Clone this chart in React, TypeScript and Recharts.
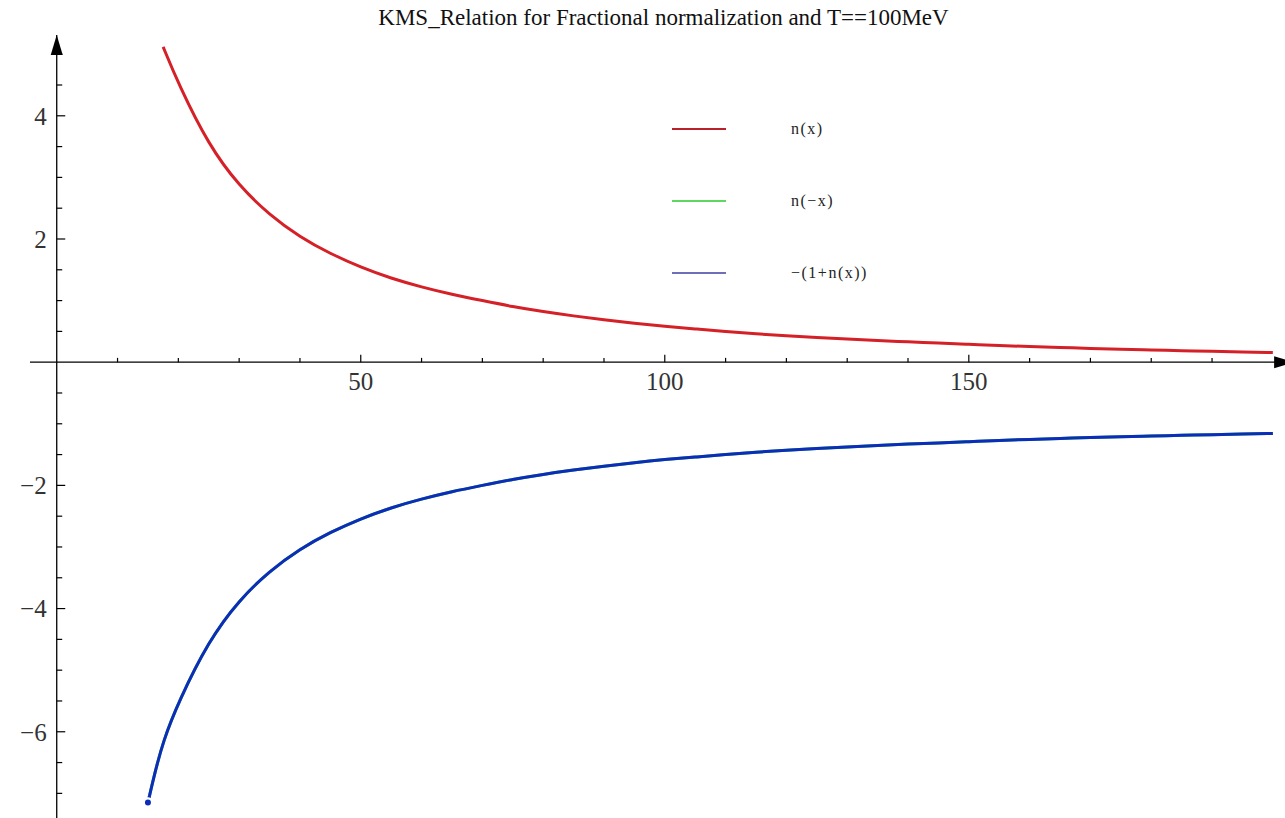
import React from 'react';
import { LineChart, Line, XAxis, YAxis, ReferenceLine, ReferenceDot } from 'recharts';

// energies (MeV) sampled along the curves
const xValues = [15, 16, 17.5, 20, 25, 30, 35, 40, 45, 50, 55, 60, 65, 70, 75, 80, 85, 90, 95, 100, 105, 110, 115, 120, 125, 130, 135, 140, 145, 150, 155, 160, 165, 170, 175, 180, 185, 190, 195, 200];
// n(x), clipped at the top of the plot before x ≈ 17.5
const nValues = [null, null, 5.12, 4.52, 3.52, 2.86, 2.39, 2.03, 1.76, 1.54, 1.36, 1.22, 1.1, 1.0, 0.9, 0.82, 0.75, 0.69, 0.63, 0.58, 0.54, 0.5, 0.46, 0.43, 0.4, 0.375, 0.35, 0.33, 0.31, 0.29, 0.27, 0.253, 0.238, 0.224, 0.21, 0.2, 0.187, 0.177, 0.167, 0.157];
// n(-x), lies under the blue curve
const nNegValues = [-7.15, -6.72, -6.15, -5.52, -4.52, -3.86, -3.39, -3.03, -2.76, -2.54, -2.36, -2.22, -2.1, -2.0, -1.9, -1.82, -1.75, -1.69, -1.63, -1.58, -1.54, -1.5, -1.46, -1.43, -1.4, -1.375, -1.35, -1.33, -1.31, -1.29, -1.27, -1.253, -1.238, -1.224, -1.21, -1.2, -1.187, -1.177, -1.167, -1.157];
// -(1+n(x))
const kmsValues = [-7.15, -6.72, -6.15, -5.52, -4.52, -3.86, -3.39, -3.03, -2.76, -2.54, -2.36, -2.22, -2.1, -2.0, -1.9, -1.82, -1.75, -1.69, -1.63, -1.58, -1.54, -1.5, -1.46, -1.43, -1.4, -1.375, -1.35, -1.33, -1.31, -1.29, -1.27, -1.253, -1.238, -1.224, -1.21, -1.2, -1.187, -1.177, -1.167, -1.157];

const xMajor = [50, 100, 150];
const xMinor = [10, 20, 30, 40, 60, 70, 80, 90, 110, 120, 130, 140, 160, 170, 180, 190];
const yMajor = [-6, -4, -2, 2, 4];
const yMinor = [-7, -6.5, -5.5, -5, -4.5, -3.5, -3, -2.5, -1.5, -1, -0.5, 0.5, 1, 1.5, 2.5, 3, 3.5, 4.5, 5];

const legendItems = [
  { label: 'n(x)', color: '#b8202a' },
  { label: 'n(\u2212x)', color: '#5fd85f' },
  { label: '\u2212(1+n(x))', color: '#6f6fb8' },
];

const rows = xValues.map((x, i) => ({ x, n: nValues[i], nNeg: nNegValues[i], kms: kmsValues[i] }));

const fmt = (v: number) => (v < 0 ? '\u2212' + Math.abs(v) : String(v));

const arrowLine = (dir: 'right' | 'up') => (props: any) => {
  const { x1, y1, x2, y2 } = props;
  const len = 20;
  const half = 6;
  const head =
    dir === 'right'
      ? `${x2},${y2} ${x2 - len},${y2 - half} ${x2 - len},${y2 + half}`
      : `${x2},${y2} ${x2 - half},${y2 + len} ${x2 + half},${y2 + len}`;
  return (
    <g>
      <line x1={x1} y1={y1} x2={x2} y2={y2} stroke="#000" strokeWidth={1.3} />
      <polygon points={head} fill="#000" />
    </g>
  );
};

const tickFont = { fill: '#333', fontSize: 25, fontFamily: 'Liberation Serif' };

const App: React.FC = () => {
  return (
    <div style={{ position: 'absolute', left: 0, top: 0, width: 1285, height: 818, background: '#fff' }}>
      <div
        style={{
          position: 'absolute',
          left: 0,
          top: 5,
          width: 1327,
          textAlign: 'center',
          fontFamily: 'Liberation Serif',
          fontSize: 23,
          color: '#111',
          zIndex: 2,
        }}
      >
        KMS_Relation for Fractional normalization and T==100MeV
      </div>
      <div style={{ position: 'absolute', left: 672, top: 117, zIndex: 2, fontFamily: 'Liberation Serif', fontSize: 16, letterSpacing: 1.5, color: '#222' }}>
        {legendItems.map((item) => (
          <div key={item.label} style={{ display: 'flex', alignItems: 'center', height: 24, marginBottom: 48 }}>
            <div style={{ width: 54, height: 2, background: item.color }} />
            <span style={{ marginLeft: 65 }}>{item.label}</span>
          </div>
        ))}
      </div>
      <LineChart width={1285} height={818} data={rows} margin={{ top: 0, right: 0, bottom: 0, left: 0 }}>
        <XAxis type="number" dataKey="x" domain={[-9.33, 202.0]} hide allowDataOverflow />
        <YAxis type="number" domain={[-7.4, 5.88]} hide allowDataOverflow />
        <ReferenceLine segment={[{ x: -4.4, y: 0 }, { x: 203.5, y: 0 }]} ifOverflow="visible" shape={arrowLine('right')} />
        <ReferenceLine segment={[{ x: 0, y: -7.4 }, { x: 0, y: 5.31 }]} ifOverflow="visible" shape={arrowLine('up')} />
        {xMinor.map((t) => (
          <ReferenceLine key={'xm' + t} segment={[{ x: t, y: 0 }, { x: t, y: 0.07 }]} stroke="#000" strokeWidth={1.2} />
        ))}
        {xMajor.map((t) => (
          <ReferenceLine key={'xM' + t} segment={[{ x: t, y: 0 }, { x: t, y: 0.12 }]} stroke="#000" strokeWidth={1.2} />
        ))}
        {yMinor.map((t) => (
          <ReferenceLine key={'ym' + t} segment={[{ x: 0, y: t }, { x: 0.9, y: t }]} stroke="#000" strokeWidth={1.2} />
        ))}
        {yMajor.map((t) => (
          <ReferenceLine key={'yM' + t} segment={[{ x: 0, y: t }, { x: 1.4, y: t }]} stroke="#000" strokeWidth={1.2} />
        ))}
        {xMajor.map((t) => (
          <ReferenceDot key={'xl' + t} x={t} y={0} r={0} fill="none" stroke="none" label={{ value: fmt(t), position: 'bottom', offset: 10, ...tickFont }} />
        ))}
        {yMajor.map((t) => (
          <ReferenceDot key={'yl' + t} x={0} y={t} r={0} fill="none" stroke="none" label={{ value: fmt(t), position: 'left', offset: 10, ...tickFont }} />
        ))}
        <Line type="basis" dataKey="n" stroke="#d42026" strokeWidth={3} dot={false} isAnimationActive={false} />
        <Line type="basis" dataKey="nNeg" stroke="#3cc83c" strokeWidth={3} dot={false} isAnimationActive={false} />
        <Line type="basis" dataKey="kms" stroke="#0c2cbc" strokeWidth={3} dot={false} isAnimationActive={false} />
      </LineChart>
    </div>
  );
};

export default App;
